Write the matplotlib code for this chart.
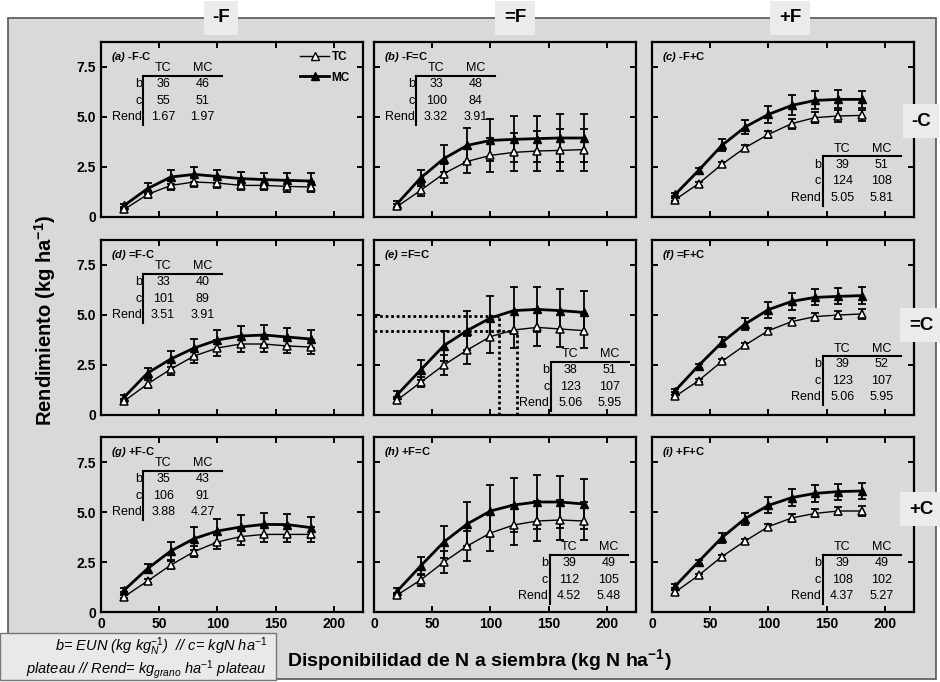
"""Rendimiento vs disponibilidad de N a siembra, 3x3 paneles (F x C)."""

import matplotlib

matplotlib.use("Agg")
import matplotlib.pyplot as plt
from matplotlib.lines import Line2D
from matplotlib.patches import Rectangle

plt.rcParams["font.family"] = ["Liberation Sans", "DejaVu Sans"]
plt.rcParams["mathtext.fontset"] = "custom"
plt.rcParams["mathtext.rm"] = "Liberation Sans"
plt.rcParams["mathtext.it"] = "Liberation Sans:italic"
plt.rcParams["mathtext.bf"] = "Liberation Sans:bold"
plt.rcParams["mathtext.bfit"] = "Liberation Sans:italic:bold"

# N disponible a siembra (kg N/ha)
x_n = [20, 40, 60, 80, 100, 120, 140, 160, 180]

# Rendimiento (kg/ha, escala x1000) TC = open triangles, MC = filled triangles
tc_a = [0.38, 1.13, 1.58, 1.75, 1.70, 1.58, 1.58, 1.53, 1.50]
mc_a = [0.58, 1.42, 2.00, 2.13, 2.03, 1.92, 1.87, 1.83, 1.80]
tc_b = [0.53, 1.33, 2.17, 2.78, 3.08, 3.23, 3.30, 3.33, 3.37]
mc_b = [0.67, 1.95, 2.92, 3.58, 3.83, 3.88, 3.92, 3.95, 3.95]
tc_c = [0.87, 1.67, 2.63, 3.47, 4.13, 4.67, 4.97, 5.05, 5.08]
mc_c = [1.13, 2.33, 3.58, 4.50, 5.13, 5.58, 5.83, 5.88, 5.88]
tc_d = [0.70, 1.55, 2.30, 2.95, 3.35, 3.55, 3.55, 3.45, 3.40]
mc_d = [0.90, 2.10, 2.80, 3.35, 3.75, 3.95, 4.00, 3.90, 3.80]
tc_e = [0.75, 1.63, 2.50, 3.25, 3.92, 4.25, 4.38, 4.30, 4.22]
mc_e = [1.02, 2.25, 3.47, 4.22, 4.85, 5.22, 5.28, 5.22, 5.13]
tc_f = [0.93, 1.72, 2.68, 3.50, 4.22, 4.67, 4.92, 5.00, 5.05]
mc_f = [1.22, 2.47, 3.63, 4.55, 5.27, 5.68, 5.88, 5.93, 5.97]
tc_g = [0.77, 1.55, 2.35, 3.02, 3.50, 3.77, 3.88, 3.88, 3.88]
mc_g = [1.10, 2.17, 3.05, 3.67, 4.05, 4.25, 4.38, 4.37, 4.22]
tc_h = [0.85, 1.60, 2.50, 3.30, 3.95, 4.35, 4.55, 4.60, 4.55]
mc_h = [1.05, 2.30, 3.50, 4.40, 5.05, 5.35, 5.50, 5.50, 5.40]
tc_i = [1.00, 1.83, 2.77, 3.55, 4.27, 4.70, 4.93, 5.05, 5.05]
mc_i = [1.30, 2.52, 3.72, 4.67, 5.33, 5.72, 5.93, 6.02, 6.05]

# Error bars
err_tc_a = [0.08, 0.18, 0.22, 0.25, 0.23, 0.22, 0.25, 0.28, 0.25]
err_mc_a = [0.08, 0.28, 0.33, 0.37, 0.33, 0.33, 0.33, 0.37, 0.38]
err_tc_b = [0.12, 0.30, 0.47, 0.60, 0.85, 0.95, 1.00, 1.05, 1.05]
err_mc_b = [0.15, 0.40, 0.67, 0.85, 1.05, 1.15, 1.15, 1.18, 1.20]
err_tc_c = [0.08, 0.10, 0.12, 0.15, 0.18, 0.25, 0.28, 0.28, 0.28]
err_mc_c = [0.08, 0.12, 0.30, 0.35, 0.42, 0.50, 0.45, 0.45, 0.42]
err_tc_d = [0.10, 0.20, 0.30, 0.35, 0.40, 0.40, 0.40, 0.35, 0.35]
err_mc_d = [0.12, 0.25, 0.40, 0.45, 0.50, 0.50, 0.50, 0.45, 0.45]
err_tc_e = [0.15, 0.25, 0.48, 0.70, 0.83, 0.90, 0.92, 0.92, 0.85]
err_mc_e = [0.20, 0.50, 0.75, 0.97, 1.10, 1.17, 1.13, 1.08, 1.08]
err_tc_f = [0.08, 0.08, 0.10, 0.12, 0.15, 0.18, 0.20, 0.22, 0.25]
err_mc_f = [0.08, 0.10, 0.25, 0.30, 0.40, 0.42, 0.40, 0.40, 0.42]
err_tc_g = [0.08, 0.12, 0.20, 0.28, 0.35, 0.40, 0.40, 0.40, 0.38]
err_mc_g = [0.10, 0.22, 0.45, 0.58, 0.62, 0.58, 0.58, 0.55, 0.53]
err_tc_h = [0.12, 0.30, 0.55, 0.75, 0.90, 1.00, 1.00, 1.00, 0.95]
err_mc_h = [0.15, 0.45, 0.80, 1.10, 1.30, 1.35, 1.35, 1.30, 1.25]
err_tc_i = [0.08, 0.08, 0.10, 0.12, 0.15, 0.18, 0.20, 0.22, 0.25]
err_mc_i = [0.08, 0.10, 0.25, 0.30, 0.40, 0.42, 0.42, 0.40, 0.40]

# Fitted parameters per panel
panel_letters = ["a", "b", "c", "d", "e", "f", "g", "h", "i"]
panel_names = ["-F-C", "-F=C", "-F+C", "=F-C", "=F=C", "=F+C", "+F-C", "+F=C", "+F+C"]
b_tc = [36, 33, 39, 33, 38, 39, 35, 39, 39]
b_mc = [46, 48, 51, 40, 51, 52, 43, 49, 49]
c_tc = [55, 100, 124, 101, 123, 123, 106, 112, 108]
c_mc = [51, 84, 108, 89, 107, 107, 91, 105, 102]
rend_tc = [1.67, 3.32, 5.05, 3.51, 5.06, 5.06, 3.88, 4.52, 4.37]
rend_mc = [1.97, 3.91, 5.81, 3.91, 5.95, 5.95, 4.27, 5.48, 5.27]

# Guide lines in panel (e)
guide_x = [107, 123]
guide_y = [4.97, 4.20]

col_headers = ["-F", "=F", "+F"]
row_headers = ["-C", "=C", "+C"]

tc_series = [tc_a, tc_b, tc_c, tc_d, tc_e, tc_f, tc_g, tc_h, tc_i]
mc_series = [mc_a, mc_b, mc_c, mc_d, mc_e, mc_f, mc_g, mc_h, mc_i]
tc_errs = [err_tc_a, err_tc_b, err_tc_c, err_tc_d, err_tc_e, err_tc_f, err_tc_g, err_tc_h, err_tc_i]
mc_errs = [err_mc_a, err_mc_b, err_mc_c, err_mc_d, err_mc_e, err_mc_f, err_mc_g, err_mc_h, err_mc_i]

W, H = 940, 682
BG = "#d9d9d9"


def px_rect(x, y, w, h):
    """Pixel box (top-left origin) to figure fraction rect."""
    return [x / W, 1 - (y + h) / H, w / W, h / H]


def draw_stats(ax, x0, y0, idx):
    """Small TC/MC parameter table, x0 = vertical rule, y0 = header row."""
    kw = {"transform": ax.transAxes, "fontsize": 9, "va": "center"}
    ax.text(x0 + 0.075, y0, "TC", ha="center", **kw)
    ax.text(x0 + 0.225, y0, "MC", ha="center", **kw)
    rows = [
        ("b", str(b_tc[idx]), str(b_mc[idx])),
        ("c", str(c_tc[idx]), str(c_mc[idx])),
        ("Rend", f"{rend_tc[idx]:.2f}", f"{rend_mc[idx]:.2f}"),
    ]
    for k, (lab, v1, v2) in enumerate(rows):
        yy = y0 - 0.09 - 0.095 * k
        ax.text(x0 - 0.006, yy, lab, ha="right", **kw)
        ax.text(x0 + 0.075, yy, v1, ha="center", **kw)
        ax.text(x0 + 0.225, yy, v2, ha="center", **kw)
    ax.plot([x0, x0 + 0.298], [y0 - 0.042, y0 - 0.042], color="black", lw=1.5,
            transform=ax.transAxes, clip_on=False)
    ax.plot([x0, x0], [y0 - 0.042, y0 - 0.325], color="black", lw=1.5,
            transform=ax.transAxes, clip_on=False)


fig = plt.figure(figsize=(W / 100, H / 100), dpi=100)
fig.patch.set_facecolor("white")

# Outer grey frame
fig.add_artist(Rectangle((8 / W, 1 - 679 / H), 928 / W, 661 / H, transform=fig.transFigure,
                         facecolor=BG, edgecolor="#555555", lw=1.2, zorder=-1))

col_left = [101, 374, 652]
row_top = [42, 240, 437]
table_anchor = {"a": (0.162, 0.85), "b": (0.162, 0.85), "d": (0.162, 0.85), "g": (0.162, 0.85),
                "c": (0.651, 0.39), "f": (0.651, 0.38), "i": (0.651, 0.37),
                "e": (0.675, 0.347), "h": (0.67, 0.37)}

for idx in range(9):
    r, c = divmod(idx, 3)
    ax = fig.add_axes(px_rect(col_left[c], row_top[r], 262, 175))
    ax.set_facecolor(BG)
    ax.set_xlim(0, 225)
    ax.set_ylim(0, 8.75)
    ax.set_xticks([0, 50, 100, 150, 200])
    ax.set_yticks([0, 2.5, 5.0, 7.5])
    ax.set_xticklabels(["0", "50", "100", "150", "200"] if r == 2 else [])
    ax.set_yticklabels(["0", "2.5", "5.0", "7.5"] if c == 0 else [])
    ax.tick_params(direction="in", top=True, right=True, length=4, width=1.4,
                   labelsize=10, pad=3.5)
    for lab in ax.get_xticklabels() + ax.get_yticklabels():
        lab.set_fontweight("bold")
    for sp in ax.spines.values():
        sp.set_linewidth(1.6)

    letter = panel_letters[idx]
    if letter == "e":
        for gx, gy in zip(guide_x, guide_y):
            ax.plot([0, gx], [gy, gy], color="black", lw=2, ls=(0, (1, 1)))
            ax.plot([gx, gx], [0, gy], color="black", lw=2, ls=(0, (1, 1)))

    ax.errorbar(x_n, mc_series[idx], yerr=mc_errs[idx], fmt="none", ecolor="black",
                elinewidth=1.3, capsize=3, capthick=1.3)
    ax.errorbar(x_n, tc_series[idx], yerr=tc_errs[idx], fmt="none", ecolor="black",
                elinewidth=1.3, capsize=3, capthick=1.3)
    ax.plot(x_n, mc_series[idx], color="black", lw=2, marker="^", ms=5.5,
            mfc="black", mec="black")
    ax.plot(x_n, tc_series[idx], color="black", lw=1, marker="^", ms=5.5,
            mfc="white", mec="black", mew=1.1)

    ax.text(0.037, 0.915, rf"$\mathbfit{{({letter})}}$ {panel_names[idx]}",
            transform=ax.transAxes, fontsize=8, fontweight="bold", va="center")

    x0, y0 = table_anchor[letter]
    draw_stats(ax, x0, y0, idx)

    if idx == 0:
        handles = [
            Line2D([], [], color="black", lw=1, marker="^", ms=5.5, mfc="white", mec="black"),
            Line2D([], [], color="black", lw=2, marker="^", ms=5.5, mfc="black", mec="black"),
        ]
        ax.legend(handles, ["TC", "MC"], loc="upper right", bbox_to_anchor=(0.95, 0.95),
                  frameon=False, prop={"weight": "bold", "size": 8.5}, handlelength=2.4,
                  handletextpad=0.25, labelspacing=0.75, borderaxespad=0, borderpad=0)

# Column headers (F) and row headers (C)
for xc, txt in zip([221, 515, 790], col_headers):
    fig.text(xc / W, 1 - 18 / H, txt, ha="center", va="center", fontsize=13.5,
             fontweight="bold", bbox={"boxstyle": "square,pad=0.45", "fc": "#ebebeb", "ec": "none"})
for yc, txt in zip([121, 325, 509], row_headers):
    fig.text(921 / W, 1 - yc / H, txt, ha="center", va="center", fontsize=13.5,
             fontweight="bold", bbox={"boxstyle": "square,pad=0.45", "fc": "#ebebeb", "ec": "none"})

# Axis labels
fig.text(45 / W, 1 - 320 / H, r"Rendimiento (kg ha$^{\mathbf{-1}}$)", rotation=90,
         ha="center", va="center", fontsize=14.5, fontweight="bold")
fig.text(479 / W, 1 - 660 / H, r"Disponibilidad de N a siembra (kg N ha$^{\mathbf{-1}}$)",
         ha="center", va="center", fontsize=14, fontweight="bold")

# Footnote box
fig.add_artist(Rectangle((0, 1 - 680 / H), 276 / W, 47 / H, transform=fig.transFigure,
                         facecolor="#e9e9e9", edgecolor="#777777", lw=1, zorder=2))
fig.text(267 / W, 1 - 647 / H, r"b= EUN (kg kg$_{\mathit{N}}^{\mathit{-1}}$)  // c= kgN ha$^{\mathit{-1}}$",
         ha="right", va="center", fontsize=10.5, style="italic", zorder=3)
fig.text(267 / W, 1 - 670 / H, r"plateau // Rend= kg$_{\mathit{grano}}$ ha$^{\mathit{-1}}$ plateau",
         ha="right", va="center", fontsize=10.5, style="italic", zorder=3)

fig.savefig("out.png", dpi=100, facecolor=fig.get_facecolor())
plt.close(fig)
